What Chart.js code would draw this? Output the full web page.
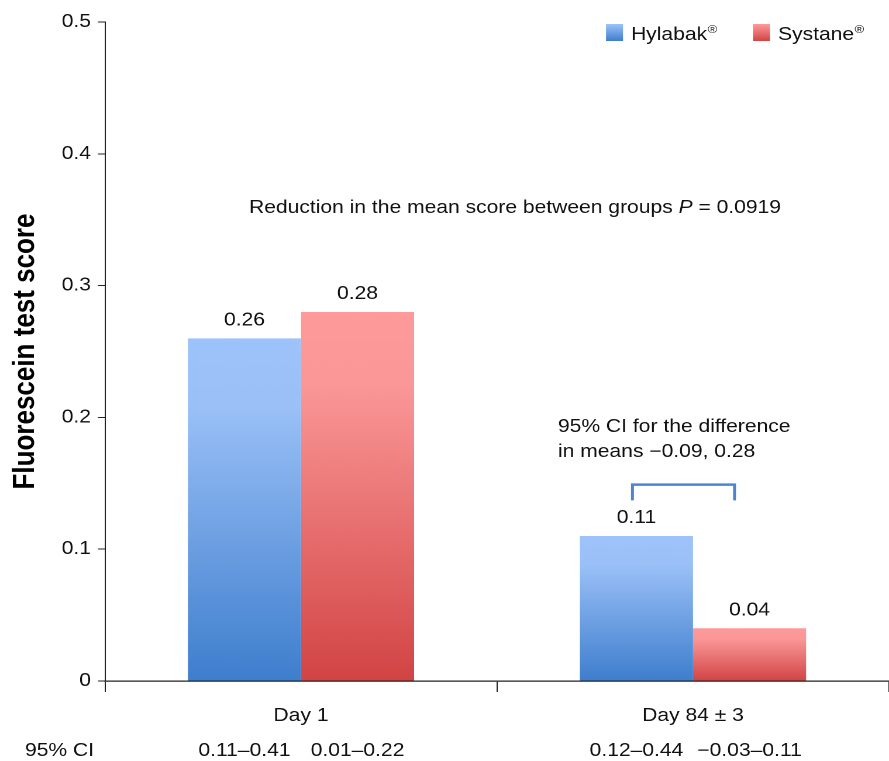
<!DOCTYPE html>
<html>
<head>
<meta charset="utf-8">
<script src="https://cdn.jsdelivr.net/npm/chart.js@4.4.0/dist/chart.umd.min.js"></script>
<style>
html,body{margin:0;padding:0;background:#fff;overflow:hidden;}
canvas{display:block;}
</style>
</head>
<body>
<canvas id="c" width="760" height="761" style="width:889px;height:761px;"></canvas>
<script>
const categories = ["Day 1", "Day 84 \u00b1 3"];
const seriesNames = ["Hylabak", "Systane"];
const hylabak = [0.26, 0.11];
const systane = [0.28, 0.04];
const valueLabelsHylabak = ["0.26", "0.11"];
const valueLabelsSystane = ["0.28", "0.04"];
const ciHylabak = ["0.11\u20130.41", "0.12\u20130.44"];
const ciSystane = ["0.01\u20130.22", "\u22120.03\u20130.11"];
const yTicks = [0, 0.1, 0.2, 0.3, 0.4, 0.5];
const bracketTop = 0.149;
const bracketBottom = 0.137;

// the page is drawn on a narrower canvas and stretched horizontally to 889px
const S = 889 / 760;
const FONT = "Arial, 'Liberation Sans', sans-serif";
const FS = 18;
const blueStops = ["#9dc3fa", "#9ac0f7", "#3e7ecd"];
const redStops = ["#fe9a9a", "#fb9797", "#d24444"];

function barGradient(ctx, stops) {
  const chart = ctx.chart;
  if (!chart.chartArea || ctx.type !== 'data') return stops[0];
  const yScale = chart.scales.y;
  const top = yScale.getPixelForValue(ctx.raw);
  const base = yScale.getPixelForValue(0);
  if (!isFinite(top) || Math.abs(base - top) < 1) return stops[0];
  const g = chart.ctx.createLinearGradient(0, top, 0, base);
  g.addColorStop(0, stops[0]);
  g.addColorStop(0.2, stops[1]);
  g.addColorStop(1, stops[2]);
  return g;
}

const overlay = {
  id: 'overlay',
  afterDatasetsDraw(chart) {
    const c = chart.ctx;
    const ys = chart.scales.y;
    const m0 = chart.getDatasetMeta(0).data;
    const m1 = chart.getDatasetMeta(1).data;
    const f = FS + "px " + FONT;
    const fi = "italic " + FS + "px " + FONT;
    c.save();
    c.fillStyle = "#111";
    c.textAlign = "center";
    c.textBaseline = "alphabetic";
    c.font = f;
    // value labels
    m0.forEach((b, i) => c.fillText(valueLabelsHylabak[i], b.x, b.y - 13));
    m1.forEach((b, i) => c.fillText(valueLabelsSystane[i], b.x, b.y - 13));
    // CI row
    c.textBaseline = "middle";
    m0.forEach((b, i) => c.fillText(ciHylabak[i], b.x, 751));
    m1.forEach((b, i) => c.fillText(ciSystane[i], b.x, 751));
    c.textAlign = "left";
    c.fillText("95% CI", 25 / S, 751);

    // reduction annotation with italic P
    const s1 = "Reduction in the mean score between groups ";
    const s2 = "P";
    const s3 = " = 0.0919";
    c.font = f;
    const w1 = c.measureText(s1).width;
    const w3 = c.measureText(s3).width;
    c.font = fi;
    const w2 = c.measureText(s2).width;
    let x = 515 / S - (w1 + w2 + w3) / 2;
    const yy = 208;
    c.font = f;
    c.fillText(s1, x, yy); x += w1;
    c.font = fi;
    c.fillText(s2, x, yy); x += w2;
    c.font = f;
    c.fillText(s3, x, yy);

    // CI difference annotation
    c.fillText("95% CI for the difference", 558 / S, 427);
    c.fillText("in means \u22120.09, 0.28", 558 / S, 452);

    // bracket
    const bl = m0[1].x - 4 / S;
    const br = m1[1].x - 15 / S;
    const bt = ys.getPixelForValue(bracketTop);
    const bb = ys.getPixelForValue(bracketBottom);
    c.strokeStyle = "#4a86d0";
    c.lineWidth = 2.5;
    c.lineJoin = "miter";
    c.beginPath();
    c.moveTo(bl, bb);
    c.lineTo(bl, bt);
    c.lineTo(br, bt);
    c.lineTo(br, bb);
    c.stroke();

    // legend
    const legendItems = [
      {x: 606 / S, name: seriesNames[0], stops: blueStops},
      {x: 753 / S, name: seriesNames[1], stops: redStops}
    ];
    legendItems.forEach(it => {
      const g = c.createLinearGradient(0, 24, 0, 41);
      g.addColorStop(0, it.stops[0]);
      g.addColorStop(1, it.stops[2]);
      c.fillStyle = g;
      c.fillRect(it.x, 24, 17 / S, 17);
      c.fillStyle = "#111";
      c.textBaseline = "alphabetic";
      c.font = f;
      c.fillText(it.name, it.x + 25 / S, 40);
      const w = c.measureText(it.name).width;
      c.font = "11px " + FONT;
      c.fillText("\u00ae", it.x + 25 / S + w + 0.5, 33);
    });
    c.restore();
  }
};

new Chart(document.getElementById('c'), {
  type: 'bar',
  data: {
    labels: categories,
    datasets: [
      { label: seriesNames[0], data: hylabak, backgroundColor: ctx => barGradient(ctx, blueStops), borderWidth: 0 },
      { label: seriesNames[1], data: systane, backgroundColor: ctx => barGradient(ctx, redStops), borderWidth: 0 }
    ]
  },
  options: {
    responsive: false,
    animation: false,
    devicePixelRatio: 2,
    events: [],
    layout: { padding: { top: 22, right: 0, left: 0, bottom: 0 } },
    datasets: { bar: { categoryPercentage: 0.577, barPercentage: 1.0 } },
    plugins: { legend: { display: false }, tooltip: { enabled: false } },
    scales: {
      x: {
        offset: true,
        grid: { display: true, drawOnChartArea: false, tickLength: 11, color: "#222", offset: true },
        border: { display: true, color: "#222", width: 1.2 },
        ticks: { color: "#111", font: { family: FONT, size: FS }, padding: 13, maxRotation: 0 },
        afterFit(scale) { scale.height = 80; }
      },
      y: {
        min: 0, max: 0.5,
        afterBuildTicks(scale) { scale.ticks = yTicks.map(v => ({ value: v })); },
        grid: { display: true, drawOnChartArea: false, tickLength: 6, color: "#222" },
        border: { display: true, color: "#222", width: 1 },
        ticks: {
          color: "#111", font: { family: FONT, size: FS }, padding: 6,
          callback: v => v === 0 ? "0" : Number(v).toFixed(1)
        },
        title: { display: true, text: "Fluorescein test score", color: "#000", font: { family: FONT, size: 26, weight: "bold" }, padding: { top: 6, bottom: 0 } },
        afterFit(scale) { scale.width = 105 / S; }
      }
    }
  },
  plugins: [overlay]
});
</script>
</body>
</html>
